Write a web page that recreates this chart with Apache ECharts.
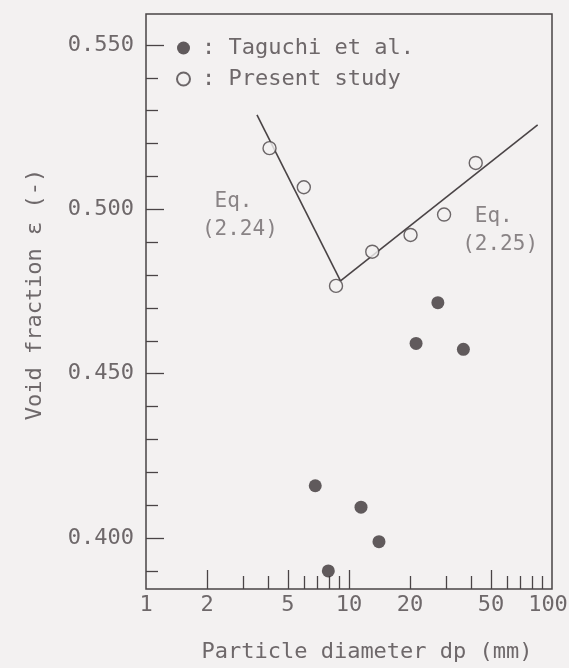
<!DOCTYPE html>
<html>
<head>
<meta charset="utf-8">
<script src="https://cdn.jsdelivr.net/npm/echarts@6/dist/echarts.min.js"></script>
<style>
  html, body { margin: 0; padding: 0; background: #f3f1f1; }
  #chart { width: 569px; height: 668px; }
</style>
</head>
<body>
<div id="chart"></div>
<script>
// Void fraction against particle diameter (dp in mm)
const taguchiDp = [6.82, 7.91, 11.46, 14.05, 21.4, 27.4, 36.6];
const taguchiVoid = [0.4159, 0.3900, 0.4094, 0.3989, 0.4592, 0.4716, 0.4574];
const presentDp = [4.06, 5.99, 8.63, 13.02, 20.1, 29.4, 42.1];
const presentVoid = [0.5186, 0.5067, 0.4767, 0.4871, 0.4922, 0.4984, 0.5141];

// Correlation lines, straight on the log dp scale
const eq224Dp = [3.52, 9.08];
const eq224Void = [0.5287, 0.4782];
const eq225Dp = [9.08, 85.0];
const eq225Void = [0.4782, 0.5257];

// Equation captions (dp, void fraction, text)
const eqNoteDp = [2.90, 55.5];
const eqNoteVoid = [0.4982, 0.4936];
const eqNoteText = ['Eq. \n(2.24)', 'Eq. \n(2.25)'];

// Axis ticks and labels
const xLabelValues = [1, 2, 5, 10, 20, 50, 100];
const xLongTicks = [2, 5, 10, 50];
const xShortTicks = [3, 4, 6, 7, 8, 9, 20, 30, 40, 60, 70, 80, 90];
const yLabelValues = [0.40, 0.45, 0.50, 0.55];
const yShortTicks = [0.39, 0.41, 0.42, 0.43, 0.44, 0.46, 0.47, 0.48, 0.49,
                     0.51, 0.52, 0.53, 0.54];

const FONT = "'DejaVu Sans Mono', 'Liberation Mono', monospace";
const TEXT = '#6e686a';
const INK = '#4a4446';
const PAPER = '#f3f1f1';

const pairs = (xs, ys) => xs.map((x, i) => [x, ys[i]]);

const X_MIN = 1, X_MAX = 100;
const Y_MIN = 0.3845, Y_MAX = 0.5594;

const chart = echarts.init(document.getElementById('chart'), null, { renderer: 'canvas' });

chart.setOption({
  animation: false,
  backgroundColor: PAPER,
  grid: {
    left: 146, right: 17, top: 14, bottom: 79,
    outerBoundsMode: 'none', containLabel: false,
    show: true, borderColor: INK, borderWidth: 1.5, backgroundColor: 'transparent'
  },
  legend: {
    orient: 'vertical',
    left: 171, top: 32,
    itemWidth: 13, itemHeight: 13, itemGap: 9,
    formatter: n => '{s|}: ' + n,
    textStyle: { fontFamily: FONT, fontSize: 22, color: TEXT, rich: { s: { width: 7 } } },
    data: [{ name: 'Taguchi et al.', icon: 'circle' }, { name: 'Present study', icon: 'circle' }]
  },
  xAxis: [
    {
      type: 'log', min: X_MIN, max: X_MAX, position: 'bottom',
      axisLine: { show: false },
      splitLine: { show: false },
      axisTick: { show: true, inside: true, length: 19, customValues: xLongTicks,
                  lineStyle: { color: INK, width: 1.3 } },
      axisLabel: {
        customValues: xLabelValues, margin: 5,
        // the last label is pulled in slightly so it stays on the canvas
        formatter: v => (Math.round(v) === X_MAX ? '{end|' + X_MAX + '}' : String(Math.round(v))),
        fontFamily: FONT, fontSize: 22, color: TEXT,
        rich: { end: { fontFamily: FONT, fontSize: 22, color: TEXT, padding: [0, 8, 0, 0] } }
      },
      name: 'Particle diameter dp (mm)',
      nameLocation: 'middle', nameGap: 52,
      nameTextStyle: { fontFamily: FONT, fontSize: 22, color: TEXT, padding: [0, 0, 0, 36] }
    },
    {
      type: 'log', min: X_MIN, max: X_MAX, position: 'bottom',
      axisLine: { show: false },
      splitLine: { show: false },
      axisTick: { show: true, inside: true, length: 13, customValues: xShortTicks,
                  lineStyle: { color: INK, width: 1.3 } },
      axisLabel: { show: false }
    }
  ],
  yAxis: [
    {
      type: 'value', min: Y_MIN, max: Y_MAX, position: 'left',
      axisLine: { show: false },
      splitLine: { show: false },
      axisTick: { show: true, inside: true, length: 18, customValues: yLabelValues,
                  lineStyle: { color: INK, width: 1.3 } },
      axisLabel: { customValues: yLabelValues, margin: 12, formatter: v => v.toFixed(3),
                   fontFamily: FONT, fontSize: 22, color: TEXT },
      name: 'Void fraction \u03b5 (-)',
      nameLocation: 'middle', nameGap: 100,
      nameTextStyle: { fontFamily: FONT, fontSize: 22, color: TEXT, padding: [0, 0, 0, 14] }
    },
    {
      type: 'value', min: Y_MIN, max: Y_MAX, position: 'left',
      axisLine: { show: false },
      splitLine: { show: false },
      axisTick: { show: true, inside: true, length: 12, customValues: yShortTicks,
                  lineStyle: { color: INK, width: 1.3 } },
      axisLabel: { show: false }
    }
  ],
  series: [
    {
      name: 'Eq. (2.24)', type: 'line', xAxisIndex: 0, yAxisIndex: 0,
      data: pairs(eq224Dp, eq224Void), symbol: 'none', z: 2,
      lineStyle: { color: INK, width: 1.6 }
    },
    {
      name: 'Eq. (2.25)', type: 'line', xAxisIndex: 0, yAxisIndex: 0,
      data: pairs(eq225Dp, eq225Void), symbol: 'none', z: 2,
      lineStyle: { color: INK, width: 1.6 }
    },
    {
      name: 'Taguchi et al.', type: 'scatter', xAxisIndex: 0, yAxisIndex: 0,
      data: pairs(taguchiDp, taguchiVoid), symbol: 'circle', symbolSize: 13, z: 3,
      itemStyle: { color: '#3b3537' }
    },
    {
      name: 'Present study', type: 'scatter', xAxisIndex: 0, yAxisIndex: 0,
      data: pairs(presentDp, presentVoid), symbol: 'circle', symbolSize: 13, z: 3,
      itemStyle: { color: PAPER, borderColor: INK, borderWidth: 1.4 }
    },
    {
      name: 'notes', type: 'scatter', xAxisIndex: 0, yAxisIndex: 0,
      data: eqNoteDp.map((x, i) => ({ value: [x, eqNoteVoid[i]], name: eqNoteText[i] })),
      symbolSize: 0, silent: true, z: 4,
      label: {
        show: true, position: 'inside', formatter: p => p.name,
        fontFamily: FONT, fontSize: 21, lineHeight: 28, color: TEXT, align: 'center'
      }
    }
  ]
});
</script>
</body>
</html>
